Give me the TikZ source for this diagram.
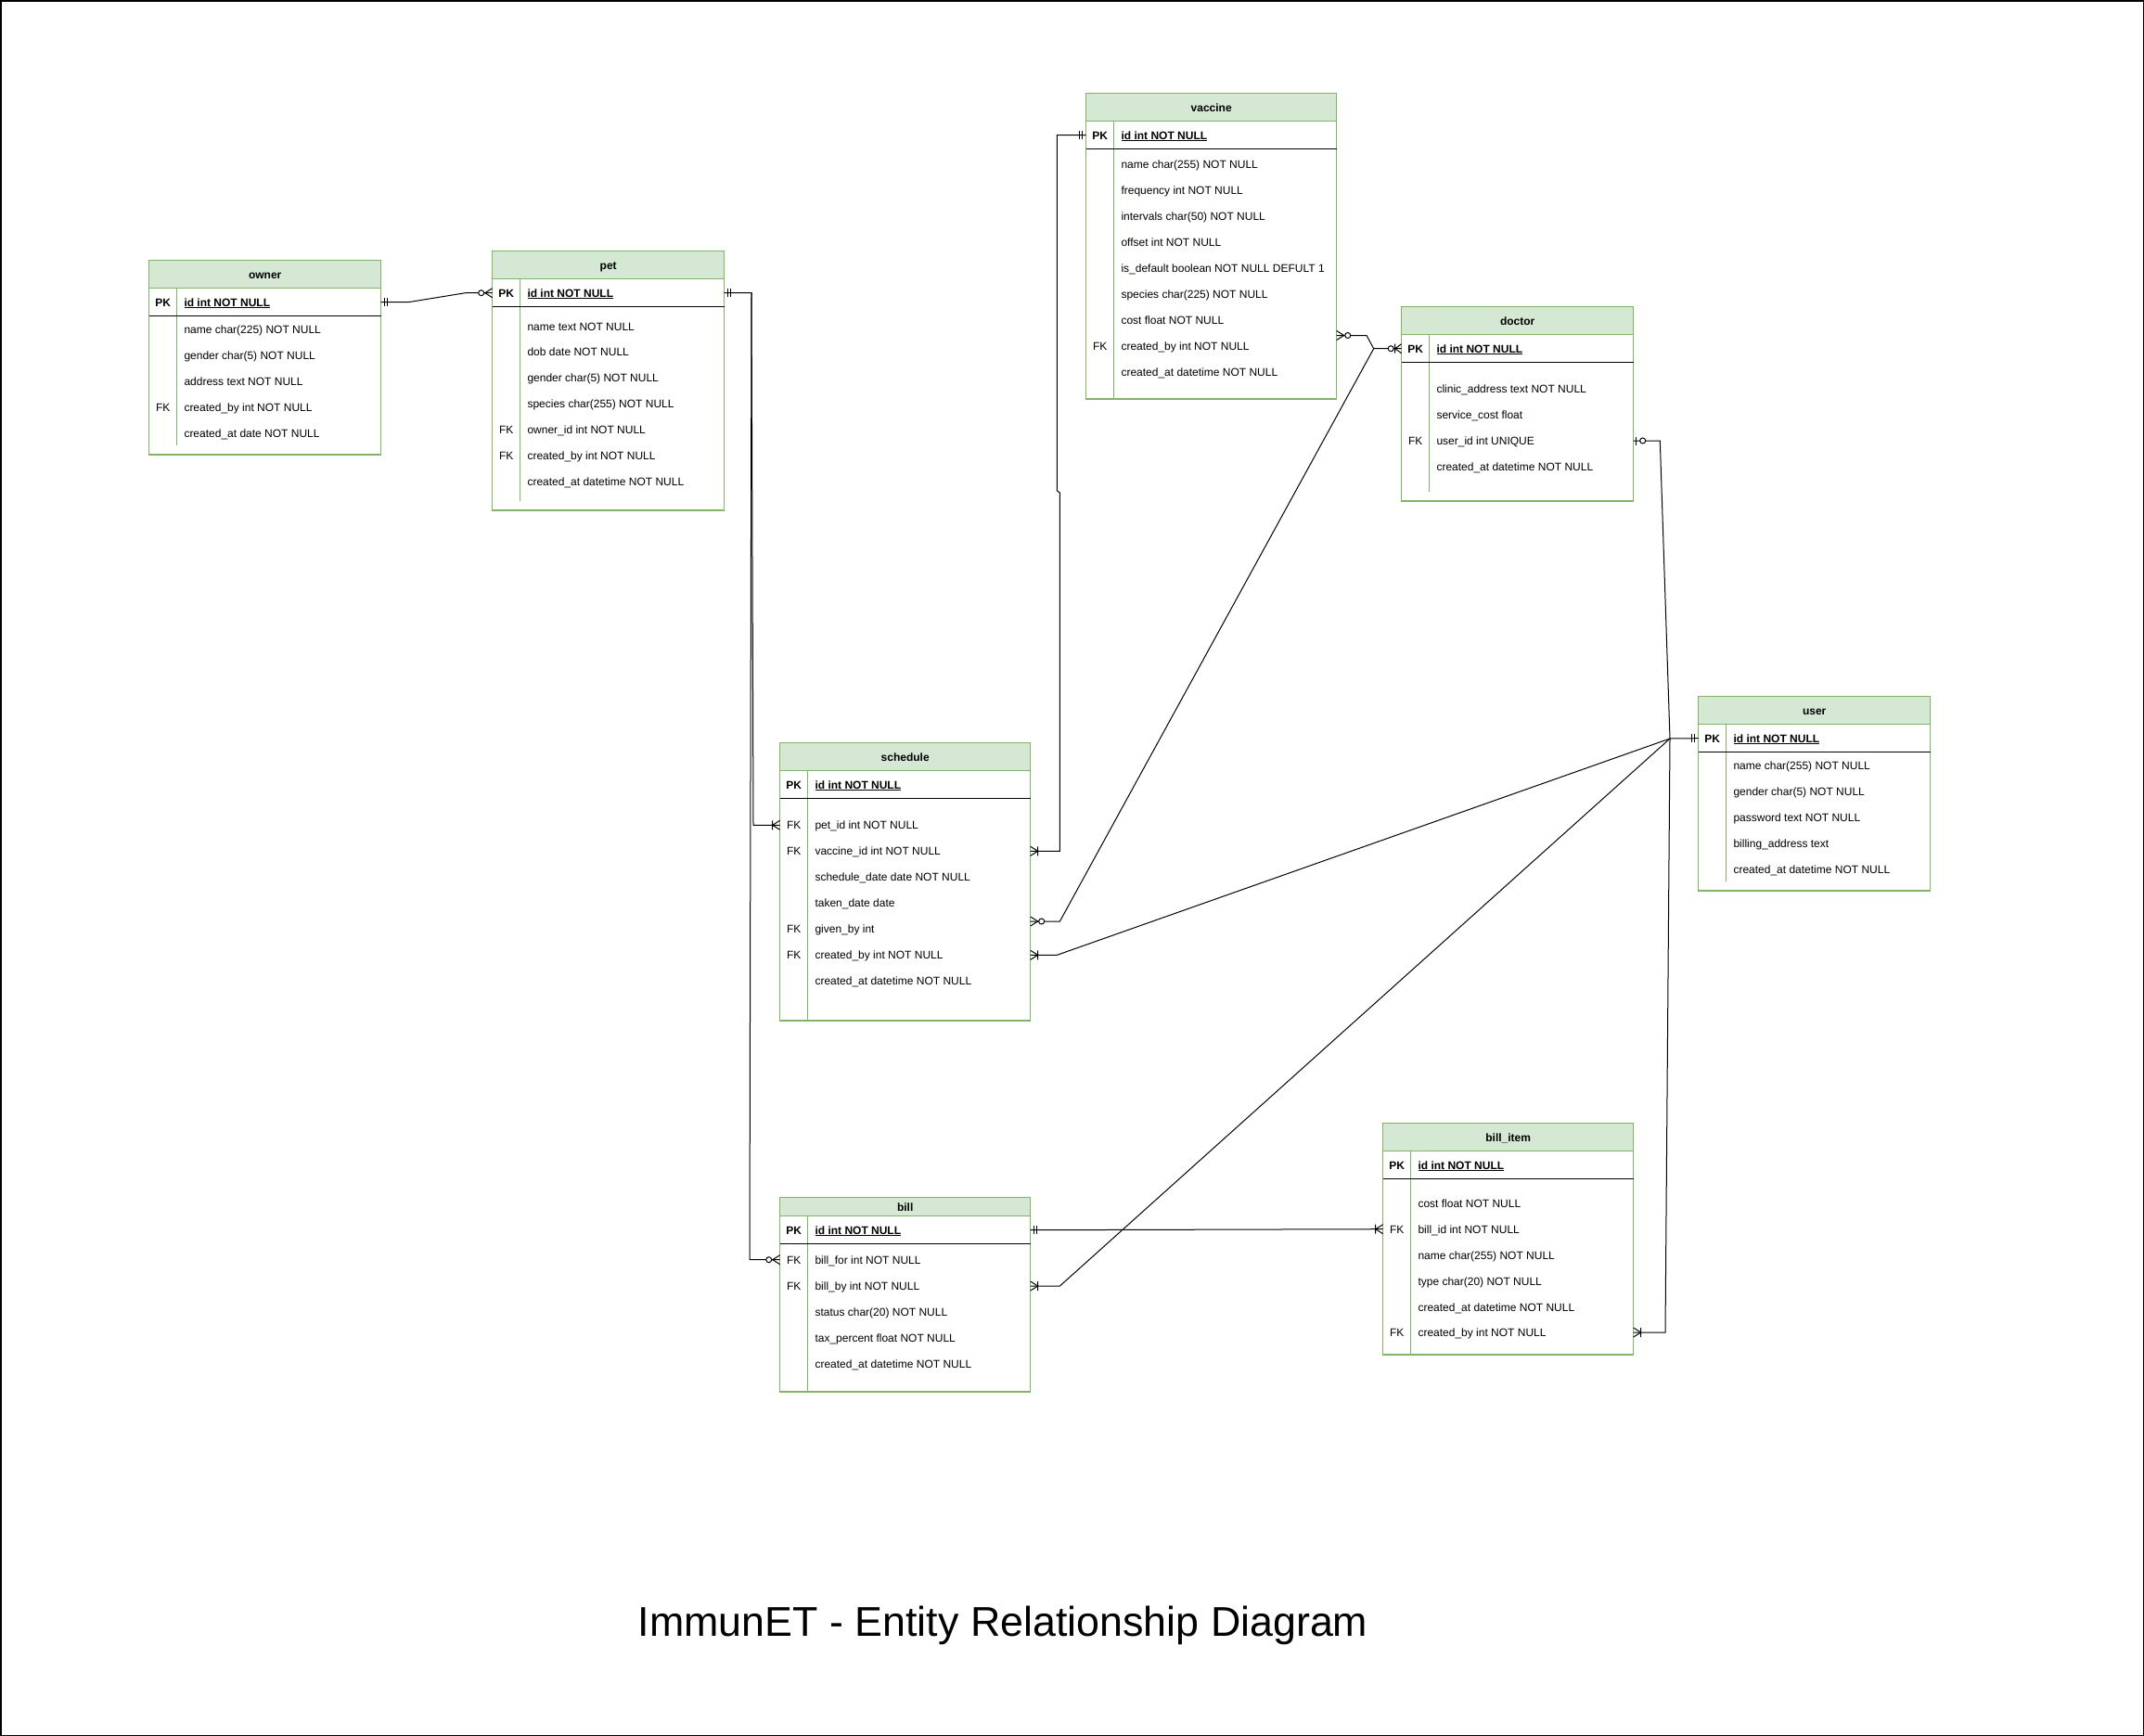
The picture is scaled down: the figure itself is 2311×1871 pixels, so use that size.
\documentclass[tikz,border=0pt]{standalone}
\usepackage{fontspec}
\setmainfont{Liberation Sans}
\usetikzlibrary{fit}
\definecolor{grn}{HTML}{82B366}
\definecolor{hdrfill}{HTML}{D5E8D4}
\tikzset{
  tbl/.style={draw=grn, line width=1.2pt, fill=white, inner sep=0pt, outer sep=0pt, rectangle},
  hdr/.style={draw=grn, line width=1.2pt, fill=hdrfill, inner sep=0pt, outer sep=0pt, rectangle},
  hdrt/.style={inner sep=0pt, text height=8.6pt, text depth=0pt, font=\fontsize{12}{14}\selectfont\bfseries},
  fld/.style={anchor=west, inner sep=0pt, text height=8.6pt, text depth=0pt, font=\fontsize{12}{14}\selectfont},
  keyt/.style={anchor=center, inner sep=0pt, text height=8.6pt, text depth=0pt, font=\fontsize{12}{14}\selectfont},
  pkline/.style={line width=1.2pt, black},
  divl/.style={draw=grn, line width=1.2pt},
  conn/.style={line width=1pt, black},
  mandone/.pic={\draw[conn] (4,-4.5) -- (4,4.5) (7,-4.5) -- (7,4.5);},
  zeromany/.pic={\draw[conn] (8,0) -- (0,-5) (8,0) -- (0,5) (8,0) -- (15,0);
                 \draw[conn, fill=white] (12,0) circle[radius=3pt];},
  onemany/.pic={\draw[conn] (8,0) -- (0,-5) (8,0) -- (0,5) (8,-5) -- (8,5);},
  zeroone/.pic={\draw[conn] (3,-4.5) -- (3,4.5);
                \draw[conn, fill=white] (10,0) circle[radius=3pt];},
  zeroonemany/.pic={\draw[conn] (7,0) -- (0,-5) (7,0) -- (0,5) (7,-5) -- (7,5);
                    \draw[conn, fill=white] (11.5,0) circle[radius=3pt];}
}
% #1 name, #2 X, #3 Y, #4 W, #5 bottom, #6 header height, #7 PK line y, #8 divider end, #9 title
\newcommand\ertab[9]{%
  \coordinate (#1-nw) at (#2,#3);
  \coordinate (#1-se) at (#2+#4,#5);
  \coordinate (#1-hse) at (#2+#4,#3+#6);
  \node[tbl, fit=(#1-nw)(#1-se)] (#1) {};
  \node[hdr, fit=(#1-nw)(#1-hse)] (#1-h) {};
  \node[hdrt] (#1-t) at (#1-h.center) {#9};
  \draw[divl] (#2+30,#3+#6) -- (#2+30,#8);
  \draw[pkline] (#2,#7) -- (#2+#4,#7);
}
% #1 table, #2 row id, #3 X, #4 y, #5 key, #6 text
\newcommand\errow[6]{%
  \node[keyt] (#1-k#2) at (#3+15,#4) {#5};
  \node[fld] (#1-#2) at (#3+37.6,#4) {#6};
}
\newcommand\erpk[4]{\errow{#1}{pk}{#2}{#3}{\textbf{PK}}{\textbf{\underline{#4}}}}
\begin{document}
\begin{tikzpicture}[x=1pt,y=-1pt]
\useasboundingbox (0,0) rectangle (2311,1871);
\draw[line width=1.5pt] (0.75,0.75) rectangle (2310.25,1870.25);

% owner
\ertab{owner}{160.7}{280.7}{250}{490}{30}{340.3}{480}{owner}
\erpk{owner}{160.7}{325.7}{id int NOT NULL}
\errow{owner}{r1}{160.7}{355}{}{name char(225) NOT NULL}
\errow{owner}{r2}{160.7}{383.3}{}{gender char(5) NOT NULL}
\errow{owner}{r3}{160.7}{411}{}{address text NOT NULL}
\errow{owner}{r4}{160.7}{439}{FK}{created\_by int NOT NULL}
\errow{owner}{r5}{160.7}{466.7}{}{created\_at date NOT NULL}

% pet
\ertab{pet}{530.7}{270.7}{250}{550}{30}{330.3}{540}{pet}
\erpk{pet}{530.7}{315.7}{id int NOT NULL}
\errow{pet}{r1}{530.7}{351.7}{}{name text NOT NULL}
\errow{pet}{r2}{530.7}{379.3}{}{dob date NOT NULL}
\errow{pet}{r3}{530.7}{407.3}{}{gender char(5) NOT NULL}
\errow{pet}{r4}{530.7}{435.3}{}{species char(255) NOT NULL}
\errow{pet}{r5}{530.7}{463.3}{FK}{owner\_id int NOT NULL}
\errow{pet}{r6}{530.7}{491.3}{FK}{created\_by int NOT NULL}
\errow{pet}{r7}{530.7}{519.3}{}{created\_at datetime NOT NULL}

% vaccine
\ertab{vaccine}{1170.7}{100.7}{270}{430}{30}{160.3}{430}{vaccine}
\erpk{vaccine}{1170.7}{145.7}{id int NOT NULL}
\errow{vaccine}{r1}{1170.7}{177.3}{}{name char(255) NOT NULL}
\errow{vaccine}{r2}{1170.7}{205}{}{frequency int NOT NULL}
\errow{vaccine}{r3}{1170.7}{233.3}{}{intervals char(50) NOT NULL}
\errow{vaccine}{r4}{1170.7}{261}{}{offset int NOT NULL}
\errow{vaccine}{r5}{1170.7}{289.3}{}{is\_default boolean NOT NULL DEFULT 1}
\errow{vaccine}{r6}{1170.7}{317.3}{}{species char(225) NOT NULL}
\errow{vaccine}{r7}{1170.7}{345.3}{}{cost float NOT NULL}
\errow{vaccine}{r8}{1170.7}{373.3}{FK}{created\_by int NOT NULL}
\errow{vaccine}{r9}{1170.7}{401}{}{created\_at datetime NOT NULL}

% doctor
\ertab{doctor}{1510.7}{330.7}{250}{540}{30}{390.3}{530}{doctor}
\erpk{doctor}{1510.7}{375.7}{id int NOT NULL}
\errow{doctor}{r1}{1510.7}{419}{}{clinic\_address text NOT NULL}
\errow{doctor}{r2}{1510.7}{447}{}{service\_cost float}
\errow{doctor}{r3}{1510.7}{475}{FK}{user\_id int UNIQUE}
\errow{doctor}{r4}{1510.7}{503}{}{created\_at datetime NOT NULL}

% user
\ertab{user}{1830.7}{750.7}{250}{960}{30}{810.3}{950}{user}
\erpk{user}{1830.7}{795.7}{id int NOT NULL}
\errow{user}{r1}{1830.7}{825}{}{name char(255) NOT NULL}
\errow{user}{r2}{1830.7}{852.7}{}{gender char(5) NOT NULL}
\errow{user}{r3}{1830.7}{880.7}{}{password text NOT NULL}
\errow{user}{r4}{1830.7}{908.7}{}{billing\_address text}
\errow{user}{r5}{1830.7}{936.7}{}{created\_at datetime NOT NULL}

% schedule
\ertab{schedule}{840.7}{800.7}{270}{1100}{30}{860.3}{1100}{schedule}
\erpk{schedule}{840.7}{845.7}{id int NOT NULL}
\errow{schedule}{r1}{840.7}{889.3}{FK}{pet\_id int NOT NULL}
\errow{schedule}{r2}{840.7}{917.3}{FK}{vaccine\_id int NOT NULL}
\errow{schedule}{r3}{840.7}{945.3}{}{schedule\_date date NOT NULL}
\errow{schedule}{r4}{840.7}{973.3}{}{taken\_date date}
\errow{schedule}{r5}{840.7}{1001.3}{FK}{given\_by int}
\errow{schedule}{r6}{840.7}{1029.3}{FK}{created\_by int NOT NULL}
\errow{schedule}{r7}{840.7}{1057.3}{}{created\_at datetime NOT NULL}

% bill
\ertab{bill}{840.7}{1290.7}{270}{1500}{20}{1340.3}{1500}{bill}
\erpk{bill}{840.7}{1325.7}{id int NOT NULL}
\errow{bill}{r1}{840.7}{1357.7}{FK}{bill\_for int NOT NULL}
\errow{bill}{r2}{840.7}{1386}{FK}{bill\_by int NOT NULL}
\errow{bill}{r3}{840.7}{1414}{}{status char(20) NOT NULL}
\errow{bill}{r4}{840.7}{1442}{}{tax\_percent float NOT NULL}
\errow{bill}{r5}{840.7}{1470}{}{created\_at datetime NOT NULL}

% bill_item
\ertab{billitem}{1490.7}{1210.7}{270}{1460}{30}{1270.3}{1460}{bill\_item}
\erpk{billitem}{1490.7}{1255.7}{id int NOT NULL}
\errow{billitem}{r1}{1490.7}{1296.7}{}{cost float NOT NULL}
\errow{billitem}{r2}{1490.7}{1324.7}{FK}{bill\_id int NOT NULL}
\errow{billitem}{r3}{1490.7}{1352.7}{}{name char(255) NOT NULL}
\errow{billitem}{r4}{1490.7}{1380.7}{}{type char(20) NOT NULL}
\errow{billitem}{r5}{1490.7}{1408.7}{}{created\_at datetime NOT NULL}
\errow{billitem}{r6}{1490.7}{1436}{FK}{created\_by int NOT NULL}

% ---------- connectors ----------
\coordinate (petj) at (810,315.7);
\coordinate (docj) at (1480.7,375.7);
\coordinate (userj) at (1800,796);
\coordinate (vaccb) at (1440.7,361.5);
\coordinate (sgb) at (1110.7,993);

% owner -> pet
\draw[conn] (owner.east |- owner-pk) -- (440,325.7) -- (501.7,315.7) -- (pet.west |- pet-pk);
% pet -> schedule, pet -> bill
\draw[conn] (pet.east |- pet-pk) -- (petj) -- (812,889.3) -- (schedule.west |- schedule-r1);
\draw[conn] (petj) -- (808,1357.7) -- (bill.west |- bill-r1);
% vaccine -> schedule
\draw[conn] (vaccine.west |- vaccine-pk) -- (1139.4,145.7) -- (1139.4,529) -- (1142.4,531) -- (1142.4,917.3) -- (schedule.east |- schedule-r2);
% doctor -> vaccine, doctor -> schedule
\draw[conn] (doctor.west |- doctor-pk) -- (docj) -- (1473,361.5) -- (vaccb);
\draw[conn] (docj) -- (1142.4,993) -- (sgb);
% doctor -> user
\draw[conn] (doctor.east |- doctor-r3) -- (1789.3,475) -- (userj) -- (user.west |- user-pk);
% user -> schedule, bill, bill_item
\draw[conn] (userj) -- (1139.4,1029.3) -- (schedule.east |- schedule-r6);
\draw[conn] (userj) -- (1142.4,1386) -- (bill.east |- bill-r2);
\draw[conn] (userj) -- (1795,1436) -- (billitem.east |- billitem-r6);
% bill -> bill_item
\draw[conn] (bill.east |- bill-pk) -- (billitem.west |- billitem-r2);

% ---------- markers ----------
\pic at (owner.east |- owner-pk) {mandone};
\pic[rotate=180] at (pet.west |- pet-pk) {zeromany};
\pic at (pet.east |- pet-pk) {mandone};
\pic[rotate=180] at (schedule.west |- schedule-r1) {onemany};
\pic[rotate=180] at (bill.west |- bill-r1) {zeromany};
\pic[rotate=180] at (vaccine.west |- vaccine-pk) {mandone};
\pic at (schedule.east |- schedule-r2) {onemany};
\pic[rotate=180] at (doctor.west |- doctor-pk) {zeroonemany};
\pic at (vaccb) {zeromany};
\pic at (sgb) {zeromany};
\pic at (doctor.east |- doctor-r3) {zeroone};
\pic[rotate=180] at (user.west |- user-pk) {mandone};
\pic at (schedule.east |- schedule-r6) {onemany};
\pic at (bill.east |- bill-r2) {onemany};
\pic at (billitem.east |- billitem-r6) {onemany};
\pic at (bill.east |- bill-pk) {mandone};
\pic[rotate=180] at (billitem.west |- billitem-r2) {onemany};

% title
\node[font=\fontsize{44.8}{52}\selectfont, anchor=base, inner sep=0pt] (title) at (1081,1763) {ImmunET - Entity Relationship Diagram};
\end{tikzpicture}
\end{document}
